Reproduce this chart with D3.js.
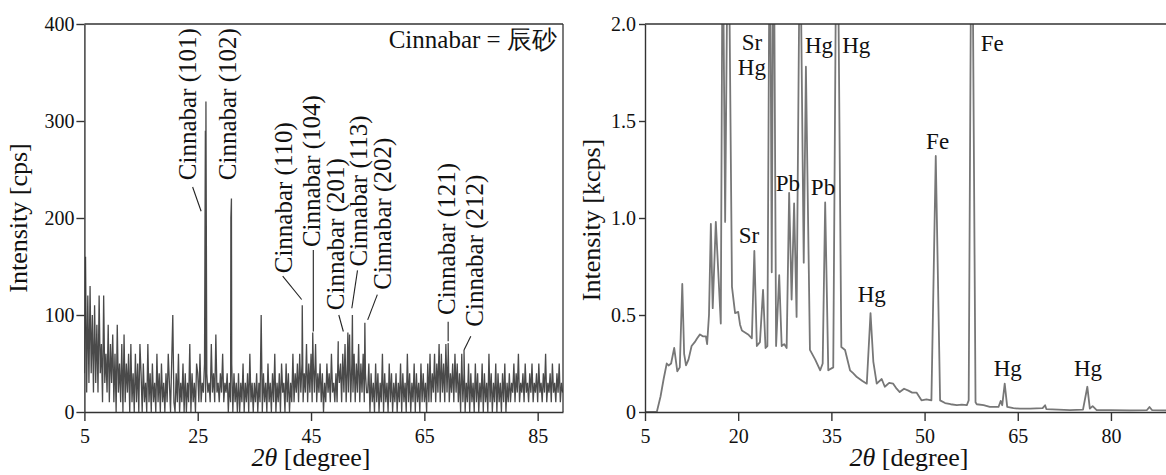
<!DOCTYPE html>
<html>
<head>
<meta charset="utf-8">
<script src="https://cdn.jsdelivr.net/npm/d3@7"></script>
<style>
  svg, svg text, svg tspan { font-family: "Liberation Serif", serif !important; }
</style>
</head>
<body style="margin:0">
<svg width="1166" height="475" font-family="Liberation Serif"></svg>
<script>
// ---- left panel: XRD, cps, sampled every 0.2 degree from 5
var noiseStart = 5, noiseStep = 0.2;
var noiseCps = [
  40,160,20,120,30,130,40,100,20,110,30,90,20,120,40,70,10,120,30,60,20,90,10,70,30,
  80,10,60,0,90,20,50,10,70,0,80,10,50,20,60,0,70,10,40,0,60,10,50,0,70,
  40,0,50,10,30,0,70,10,40,0,50,10,30,0,60,10,40,0,50,10,30,0,40,10,60,
  30,0,50,100,10,0,40,10,60,0,30,10,50,0,40,0,30,10,70,0,40,10,30,0,50,
  40,10,60,10,30,20,50,10,40,20,30,10,70,20,40,10,80,20,30,10,40,20,60,10,30,
  20,40,0,30,10,50,0,40,10,30,0,40,0,30,10,50,0,30,10,40,0,60,10,30,0,
  30,10,40,0,30,10,100,0,40,10,30,0,50,10,30,0,40,10,60,0,30,10,40,0,50,
  20,30,0,50,10,40,0,30,10,60,10,40,20,50,10,60,20,50,10,40,20,70,10,50,20,
  60,10,50,20,70,10,40,20,50,10,40,0,30,10,50,20,40,10,60,20,30,10,40,10,50,
  30,50,10,60,20,70,10,50,20,80,10,50,20,60,10,50,20,70,10,50,20,60,10,40,20,
  20,50,0,40,10,30,0,50,10,40,0,30,10,60,0,40,10,30,0,50,10,40,0,30,10,
  40,0,30,10,50,0,40,10,30,0,60,10,40,0,30,10,50,0,40,10,30,0,50,10,40,
  10,30,0,50,10,60,10,40,20,60,10,50,20,70,10,60,20,50,10,70,20,60,10,40,20,
  50,10,60,20,50,10,40,0,60,10,40,0,30,10,50,0,40,10,30,0,50,10,40,0,30,
  10,50,0,40,10,30,0,60,10,40,0,30,10,50,0,40,10,30,0,40,10,50,0,30,10,
  40,10,30,20,50,10,40,20,60,10,30,20,40,10,50,20,30,10,40,20,50,10,30,20,40,
  10,50,20,30,10,40,20,60,10,30,20,40,10,50,20,30,10,40,20,50,10,30,20
];
var peakTheta = [26.35, 26.45, 30.85, 30.95, 43.45, 45.3, 49.8, 51.5, 52.3, 54.5, 69.2, 72.0];
var peakCps   = [290,   320,   200,   220,   110,   82,   73,   82,   100,  92,   71,   64];

var cinLabels = ["Cinnabar (101)", "Cinnabar (102)", "Cinnabar (110)", "Cinnabar (104)", "Cinnabar (201)",
                 "Cinnabar (113)", "Cinnabar (202)", "Cinnabar (121)", "Cinnabar (212)"];
// label foot (theta, cps) and leader ends
var cinLabelTheta = [23.1, 30.2, 40.1, 45.1, 49.2, 53.3, 57.5, 68.9, 73.75];
var cinLabelCps   = [239, 239, 143, 170, 105, 150, 126, 100, 88];
var cinLeaders = [
  [24.1, 232, 25.6, 207],
  null,
  [40.0, 140, 43.35, 116],
  [45.4, 167, 45.4, 83],
  [49.9, 100, 50.7, 83],
  [53.2, 146, 52.2, 107],
  [56.7, 121, 55.0, 95],
  [69.2, 93, 69.2, 73],
  [73.2, 78, 72.0, 64]
];
var leftXTicks = [5, 25, 45, 65, 85];
var leftYTicks = [0, 100, 200, 300, 400];

// ---- right panel: XRF, kcps
var rightTheta = [5.0, 6.9, 7.5, 8.0, 8.5, 8.8, 9.2, 9.7, 10.2, 10.6, 11.0, 11.3, 11.6, 12.0, 12.5, 13.0, 13.4, 13.85,
  14.3, 14.8, 15.0, 15.3, 15.6, 15.9, 16.4, 17.2, 17.5, 17.9, 18.4, 19.0, 19.5, 20.0, 20.3, 20.6, 21.1, 21.6,
  22.2, 22.6, 23.0, 23.5, 24.0, 24.4, 24.7, 25.1, 25.4, 25.7, 26.1, 26.6, 27.0, 27.4, 27.8, 28.2, 28.6, 29.0,
  29.4, 29.95, 30.55, 30.9, 31.55, 32.4, 33.2, 33.6, 34.0, 34.5, 35.3, 35.9, 36.6, 37.2, 38.0, 38.5, 39.1, 40.0,
  40.7, 41.3, 41.75, 42.3, 43.1, 43.6, 44.3, 44.95, 45.5, 46.0, 46.7, 47.4, 48.0, 48.7, 49.5, 50.3, 51.1, 51.8,
  52.5, 53.3, 54.2, 55.2, 56.0, 56.8, 57.1, 57.6, 58.2, 58.4, 59.5, 60.5, 61.9, 62.25, 62.5, 62.9, 63.3, 64.3,
  65.35, 67.0, 69.0, 69.4, 69.6, 71.5, 73.4, 75.5, 76.2, 76.6, 77.05, 77.7, 80.0, 83.0, 85.8, 86.2, 86.6, 89.0];
var rightKcps = [0, 0, 0.08, 0.17, 0.25, 0.24, 0.25, 0.33, 0.21, 0.23, 0.66, 0.30, 0.24, 0.27, 0.34, 0.36, 0.38, 0.40,
  0.39, 0.39, 0.35, 0.50, 0.97, 0.535, 0.98, 0.456, 2.6, 0.98, 2.8, 0.645, 0.51, 0.516, 0.45, 0.42, 0.41, 0.40,
  0.38, 0.83, 0.34, 0.36, 0.63, 0.33, 0.34, 2.8, 0.72, 2.8, 0.34, 0.705, 0.34, 0.35, 0.33, 1.13, 0.58, 1.075,
  0.49, 2.6, 0.77, 1.78, 0.32, 0.27, 0.215, 0.25, 1.08, 0.215, 0.23, 3.0, 0.335, 0.32, 0.215, 0.20, 0.18, 0.16,
  0.146, 0.51, 0.26, 0.146, 0.17, 0.13, 0.15, 0.146, 0.12, 0.103, 0.12, 0.11, 0.10, 0.10, 0.06, 0.065, 0.06, 1.32,
  0.06, 0.046, 0.04, 0.035, 0.038, 0.035, 0.06, 3.0, 0.05, 0.04, 0.035, 0.026, 0.026, 0.057, 0.035, 0.146, 0.026, 0.02,
  0.017, 0.017, 0.02, 0.035, 0.015, 0.012, 0.01, 0.012, 0.13, 0.017, 0.03, 0.01, 0.01, 0.008, 0.01, 0.026, 0.01, 0.008];

var elemLabels = ["Sr", "Hg", "Hg", "Hg", "Pb", "Pb", "Sr", "Hg", "Fe", "Fe", "Hg", "Hg"];
var elemTheta  = [22.2, 22.2, 33.0, 39.0, 28.0, 33.65, 21.74, 41.5, 52.1, 60.9, 63.4, 76.3];
var elemKcps   = [1.866, 1.737, 1.851, 1.851, 1.14, 1.118, 0.872, 0.568, 1.356, 1.863, 0.184, 0.184];
var rightXTicks = [5, 20, 35, 50, 65, 80];
var rightYTicks = [0, 0.5, 1.0, 1.5, 2.0];
var rightYTickLabels = ["0", "0.5", "1.0", "1.5", "2.0"];

var svg = d3.select("svg");
var plotTop = 24, plotBottom = 412;

// text: serif family set as attribute and inline style
function label(sel, size) {
  return sel.attr("font-family", "Liberation Serif").attr("font-size", size)
    .style("font-family", "Liberation Serif").style("font-size", size + "px").attr("fill", "#111");
}

// ================= left panel
var xL = d3.scaleLinear().domain([5, 89.47]).range([84.4, 563]);
var yL = d3.scaleLinear().domain([0, 400]).range([plotBottom, plotTop]);

var leftPts = noiseCps.map(function(c, i) { return { t: noiseStart + i * noiseStep, c: c }; });
peakTheta.forEach(function(t, i) { leftPts.push({ t: t, c: peakCps[i] }); });
leftPts.sort(function(a, b) { return a.t - b.t; });

var defs = svg.append("defs");
defs.append("clipPath").attr("id", "clipL")
  .append("rect").attr("x", xL.range()[0]).attr("y", plotTop)
  .attr("width", xL.range()[1] - xL.range()[0]).attr("height", plotBottom - plotTop);

svg.append("path")
  .datum(leftPts)
  .attr("clip-path", "url(#clipL)")
  .attr("fill", "none")
  .attr("stroke", "#4a4a4a")
  .attr("stroke-width", 1.3)
  .attr("d", d3.line().x(function(d) { return xL(d.t); }).y(function(d) { return yL(d.c); }));

// frame top + right
svg.append("line").attr("x1", xL.range()[0]).attr("x2", xL.range()[1]).attr("y1", plotTop).attr("y2", plotTop)
  .attr("stroke", "#333").attr("stroke-width", 1.3);
svg.append("line").attr("x1", xL.range()[1]).attr("x2", xL.range()[1]).attr("y1", plotTop).attr("y2", plotBottom)
  .attr("stroke", "#333").attr("stroke-width", 1.3);

var gxL = svg.append("g").attr("transform", "translate(0," + plotBottom + ")")
  .call(d3.axisBottom(xL).tickValues(leftXTicks).tickSize(9).tickPadding(8).tickSizeOuter(0));
var gyL = svg.append("g").attr("transform", "translate(" + xL.range()[0] + ",0)")
  .call(d3.axisLeft(yL).tickValues(leftYTicks).tickSize(8).tickPadding(2).tickSizeOuter(0));

// annotations
cinLabels.forEach(function(s, i) {
  var px = xL(cinLabelTheta[i]), py = yL(cinLabelCps[i]);
  label(svg.append("text"), 25)
    .attr("x", px).attr("y", py).attr("dy", "0.35em")
    .attr("transform", "rotate(-90," + px + "," + py + ")")
    .text(s);
  var l = cinLeaders[i];
  if (l) {
    svg.append("line")
      .attr("x1", xL(l[0])).attr("y1", yL(l[1])).attr("x2", xL(l[2])).attr("y2", yL(l[3]))
      .attr("stroke", "#222").attr("stroke-width", 1.1);
  }
});
label(svg.append("text"), 25)
  .attr("x", xL(88.4)).attr("y", yL(374.8))
  .attr("text-anchor", "end")
  .text("Cinnabar = 辰砂");

// ================= right panel
var xR = d3.scaleLinear().domain([5, 88.86]).range([645, 1166]);
var yR = d3.scaleLinear().domain([0, 2]).range([plotBottom, plotTop]);

defs.append("clipPath").attr("id", "clipR")
  .append("rect").attr("x", 645).attr("y", plotTop).attr("width", 1166 - 645).attr("height", plotBottom - plotTop);

svg.append("path")
  .datum(rightTheta.map(function(t, i) { return [t, rightKcps[i]]; }))
  .attr("clip-path", "url(#clipR)")
  .attr("fill", "none")
  .attr("stroke", "#777")
  .attr("stroke-width", 1.8)
  .attr("stroke-linejoin", "round")
  .attr("d", d3.line().x(function(d) { return xR(d[0]); }).y(function(d) { return yR(d[1]); }));

svg.append("line").attr("x1", 645).attr("x2", 1166).attr("y1", plotTop).attr("y2", plotTop)
  .attr("stroke", "#333").attr("stroke-width", 1.3);

var gxR = svg.append("g").attr("transform", "translate(0," + plotBottom + ")")
  .call(d3.axisBottom(xR).tickValues(rightXTicks).tickSize(9).tickPadding(8).tickSizeOuter(0));
var gyR = svg.append("g").attr("transform", "translate(645,0)")
  .call(d3.axisLeft(yR).tickValues(rightYTicks).tickSize(6).tickPadding(3).tickSizeOuter(0)
    .tickFormat(function(d, i) { return rightYTickLabels[i]; }));

elemLabels.forEach(function(s, i) {
  label(svg.append("text"), 23)
    .attr("x", xR(elemTheta[i])).attr("y", yR(elemKcps[i]))
    .attr("text-anchor", "middle")
    .text(s);
});

// axis styling
[gxL, gyL, gxR, gyR].forEach(function(g) {
  g.attr("font-family", "Liberation Serif").attr("font-size", 20);
  g.selectAll("path, line").attr("stroke", "#333").attr("stroke-width", 1.4);
  label(g.selectAll("text"), 20);
});

// axis titles
function yTitle(x, y, unit) {
  label(svg.append("text"), 26)
    .attr("transform", "translate(" + x + "," + y + ") rotate(-90)")
    .attr("text-anchor", "middle")
    .text("Intensity [" + unit + "]");
}
yTitle(27, 218, "cps");
yTitle(600, 220, "kcps");

function xTitle(x) {
  var t = label(svg.append("text"), 26).attr("x", x).attr("y", 466).attr("text-anchor", "middle");
  t.append("tspan").style("font-style", "italic").text("2θ");
  t.append("tspan").text(" [degree]");
}
xTitle(311);
xTitle(909);
</script>
</body>
</html>
